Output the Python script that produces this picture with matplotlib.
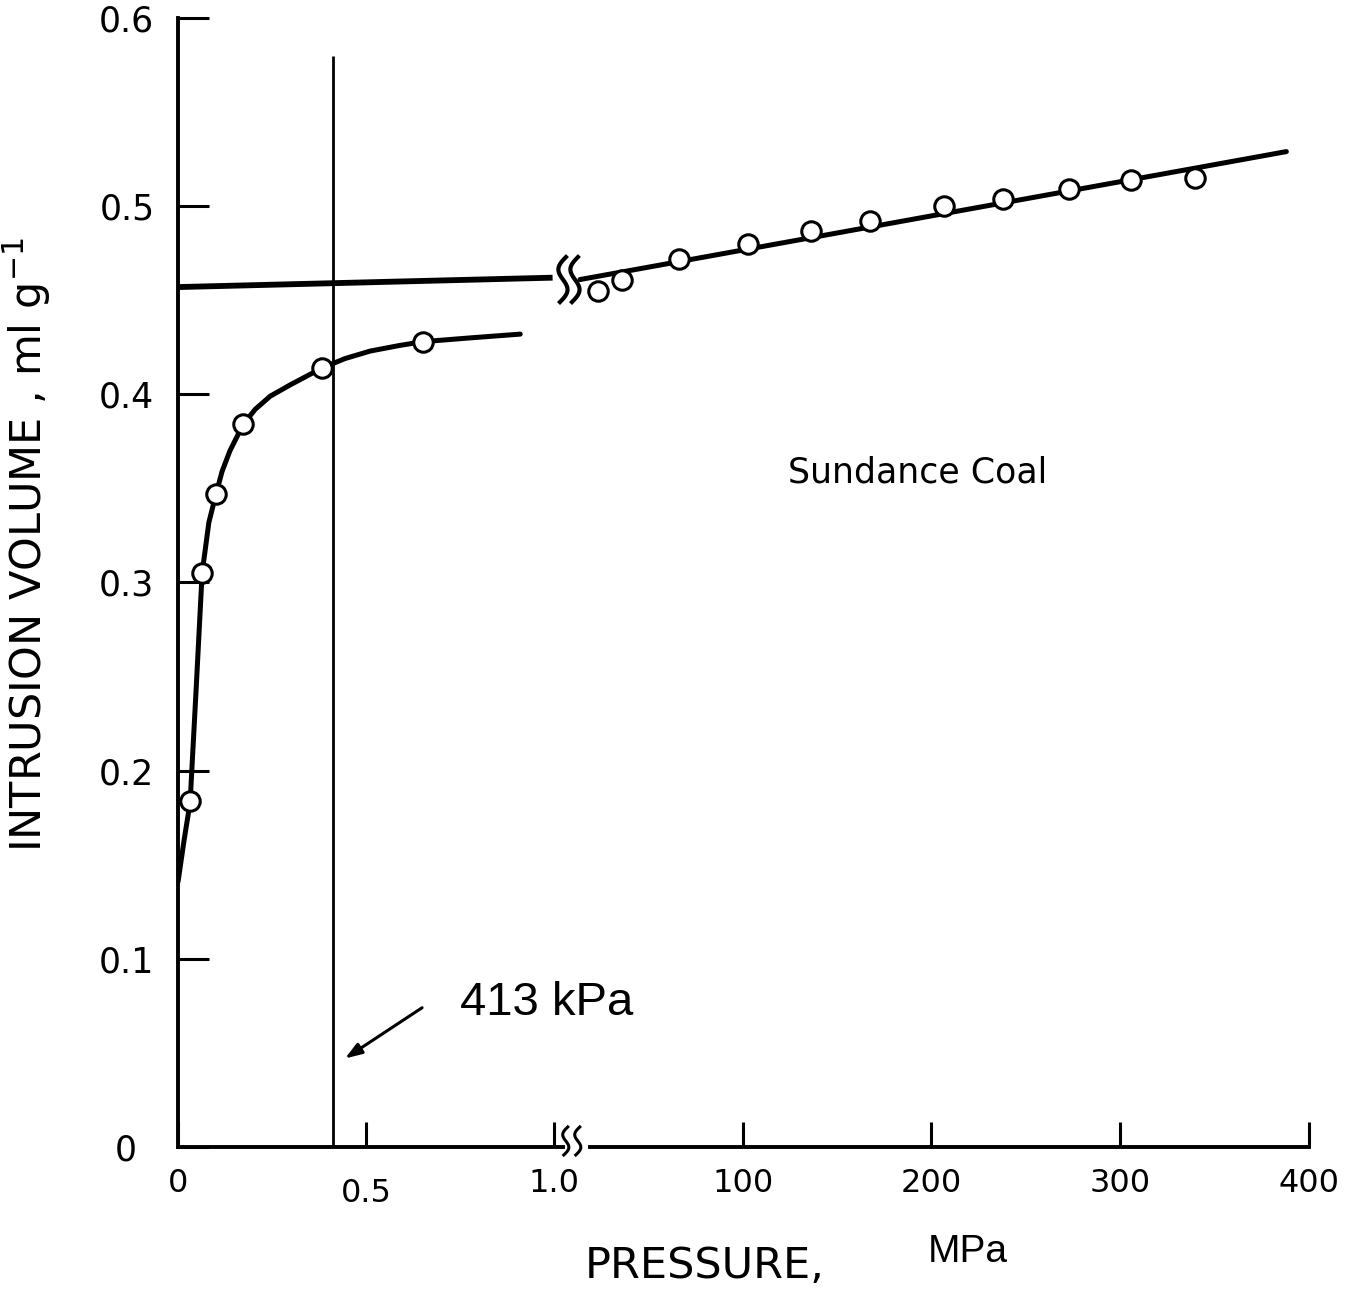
import matplotlib
matplotlib.use("Agg")
import numpy as np
import matplotlib.pyplot as plt
from matplotlib.transforms import ScaledTranslation

# values (pressure in MPa, volume in ml/g)
# low pressure branch, 0 - 1.0 MPa
curve_p = [0.0, 0.016, 0.032, 0.048, 0.064, 0.072, 0.082, 0.101, 0.117, 0.138,
           0.173, 0.205, 0.245, 0.298, 0.383, 0.444, 0.511, 0.590, 0.652, 0.777, 0.910]
curve_v = [0.141, 0.163, 0.183, 0.243, 0.305, 0.317, 0.332, 0.347, 0.359, 0.370,
           0.384, 0.392, 0.399, 0.405, 0.414, 0.419, 0.423, 0.426, 0.428, 0.430, 0.432]
low_p = [0.032, 0.064, 0.101, 0.173, 0.383, 0.652]
low_v = [0.184, 0.305, 0.347, 0.384, 0.414, 0.428]
plateau_p = [0.0, 0.996]
plateau_v = [0.457, 0.462]

# high pressure branch, up to 400 MPa
high_p = [23.3, 36.0, 66.2, 102.8, 136.2, 167.5, 206.7, 237.9, 272.9, 305.8, 339.7]
high_v = [0.455, 0.461, 0.472, 0.480, 0.487, 0.492, 0.500, 0.504, 0.509, 0.514, 0.515]
high_line_p = [13.8, 388.0]
high_line_v = [0.461, 0.529]

marker_kpa = 413
marker_top = 0.58
arrow_tail = (0.649, 0.074)
arrow_tip = (0.444, 0.047)

left_ticks = [0, 0.5, 1.0]
left_labels = ["0", "0.5", "1.0"]
right_ticks = [100, 200, 300, 400]
right_labels = ["100", "200", "300", "400"]
y_ticks = [0, 0.1, 0.2, 0.3, 0.4, 0.5, 0.6]
y_labels = ["0", "0.1", "0.2", "0.3", "0.4", "0.5", "0.6"]

plt.rcParams["font.family"] = ["DejaVu Sans"]

fig = plt.figure(figsize=(13.52, 12.96), dpi=100)
ax1 = fig.add_axes([0.1317, 0.1150, 0.2848, 0.8711])
ax2 = fig.add_axes([0.4164, 0.1150, 0.5518, 0.8711])
ax2.patch.set_visible(False)

ax1.set_xlim(0, 1.024)
ax2.set_xlim(4.8, 400)
for ax in (ax1, ax2):
    ax.set_ylim(0, 0.6)
    ax.spines["top"].set_visible(False)
    ax.spines["right"].set_visible(False)
    for s in ax.spines.values():
        s.set_linewidth(2.8)
    ax.tick_params(axis="x", direction="in", length=18, width=2.2, pad=15, labelsize=23)
ax2.spines["left"].set_visible(False)
ax2.spines["bottom"].set_bounds(19, 400)
ax2.set_yticks([])

ax1.set_yticks(y_ticks, y_labels)
ax1.tick_params(axis="y", direction="in", length=22, width=2.2, pad=17, labelsize=25)
ax1.set_xticks(left_ticks, left_labels)
ax2.set_xticks(right_ticks, right_labels)

# the scan puts the y "0" further left and the x "0.5" a bit lower
lbl = ax1.yaxis.get_major_ticks()[0].label1
lbl.set_transform(lbl.get_transform() + ScaledTranslation(-0.18, 0, fig.dpi_scale_trans))
lbl = ax1.xaxis.get_major_ticks()[1].label1
lbl.set_transform(lbl.get_transform() + ScaledTranslation(0, -0.1, fig.dpi_scale_trans))

ms_kw = dict(ls="none", marker="o", ms=14, mfc="white", mec="black", mew=2.2, zorder=4)

# low pressure branch
ax1.plot(curve_p, curve_v, color="black", lw=3.6, solid_capstyle="round", zorder=3)
ax1.plot(low_p, low_v, **ms_kw)
ax1.plot(plateau_p, plateau_v, color="black", lw=4.2, solid_capstyle="butt", zorder=3)
ax1.vlines(marker_kpa / 1000, 0, marker_top, color="black", lw=2)
ax1.annotate("", xy=arrow_tip, xytext=arrow_tail,
             arrowprops=dict(arrowstyle="-|>,head_length=1.0,head_width=0.35",
                             color="black", lw=2.2, shrinkA=0, shrinkB=0))
ax1.text(0.75, 0.070, f"{marker_kpa} kPa", fontfamily=["Liberation Sans"], fontsize=34,
         va="baseline", clip_on=False, zorder=6)

# high pressure branch
ax2.plot(high_line_p, high_line_v, color="black", lw=3.6, solid_capstyle="round",
         clip_on=False, zorder=3)
ax2.plot(high_p, high_v, clip_on=False, **ms_kw)
ax2.text(124, 0.353, "Sundance Coal", fontsize=25, va="baseline")


# break marks (wavy strokes), offsets in inches from a data anchor
def squiggle(ax, x, y, dx, dy, h, w, lw):
    t = np.linspace(-1, 1, 50)
    xs = dx - 0.5 * w * np.sin(np.pi * t) + 0.25 * w * t
    ys = dy + 0.5 * h * t
    tr = fig.dpi_scale_trans + ScaledTranslation(x, y, ax.transData)
    ax.plot(xs, ys, transform=tr, color="black", lw=lw, clip_on=False, zorder=5)


for dx in (-0.17, -0.05):
    squiggle(ax2, high_line_p[0], high_line_v[0], dx, 0.0, 0.45, 0.12, 3)
for dx in (-0.24, -0.12):
    squiggle(ax2, 19, 0, dx, 0.06, 0.28, 0.08, 2.2)

fig.text(27 / 1352, (1296 - 545) / 1296, "INTRUSION VOLUME , ml g$^{-1}$",
         rotation=90, ha="center", va="center", fontsize=31)
fig.text(585 / 1352, 18 / 1296, "PRESSURE,", fontsize=31, va="baseline")
fig.text(928 / 1352, 34 / 1296, "MPa", fontfamily=["Liberation Sans"], fontsize=28,
         va="baseline")

plt.savefig("out.png", dpi=100)
